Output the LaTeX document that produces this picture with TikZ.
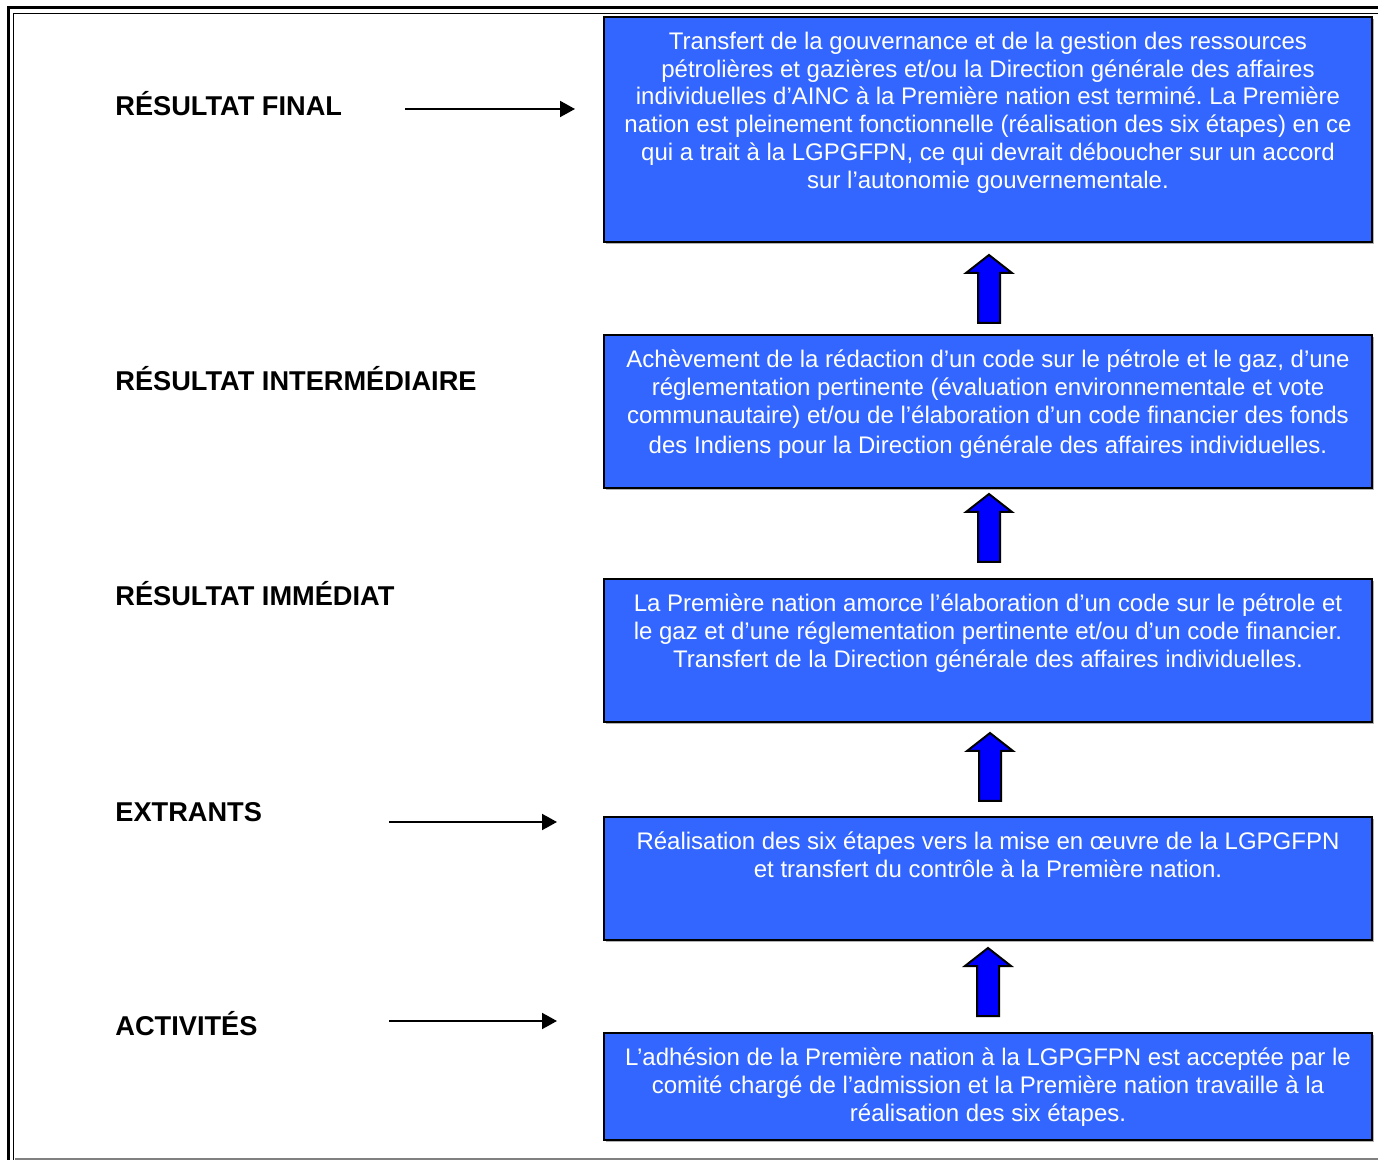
\documentclass[tikz,border=0pt]{standalone}
\usepackage{fontspec}
\setmainfont{Liberation Sans}
\usetikzlibrary{arrows.meta,shadows}
\definecolor{boxblue}{HTML}{3366FF}
\definecolor{arrowblue}{HTML}{0000FF}
\frenchspacing
\begin{document}
\begin{tikzpicture}[x=0.5pt,y=-0.5pt,
  box/.style={draw=black, line width=1pt, fill=boxblue, inner sep=0, anchor=north west,
    minimum width=384pt,
    drop shadow={shadow xshift=0.8pt, shadow yshift=-0.8pt, fill=black!30, opacity=1}},
  boxtext/.style={anchor=north, inner sep=0, text=white, align=center,
    font=\fontsize{12}{13.9}\selectfont},
  lbl/.style={anchor=base west, inner sep=0, font=\fontsize{13.6}{16}\selectfont\bfseries},
  harrow/.style={line width=1pt, -{Triangle[length=7.5pt,width=8pt]}},
  uparrow/.style={draw=black, line width=1pt, fill=arrowblue, line join=miter}]
\clip (0,0) rectangle (1378,1160);
% frame
\draw[line width=1.5pt] (8,1170) -- (8,8) -- (1390,8);
\draw[line width=0.75pt] (13.5,1170) -- (13.5,13.5) -- (1390,13.5);
\draw[gray, line width=0.75pt] (15,1159) -- (1390,1159);
% boxes
\node[box, minimum height=112.5pt] (b1) at (603,16) {};
\node[box, minimum height=76.5pt] (b2) at (603,334) {};
\node[box, minimum height=71.5pt] (b3) at (603,578) {};
\node[box, minimum height=61.5pt] (b4) at (603,816) {};
\node[box, minimum height=53.5pt] (b5) at (603,1032) {};
% box texts
\node[boxtext] (t1) at ([yshift=-7.8pt]b1.north) {Transfert de la gouvernance et de la gestion des ressources\\
pétrolières et gazières et/ou la Direction générale des affaires\\
individuelles d’AINC à la Première nation est terminé. La Première\\
nation est pleinement fonctionnelle (réalisation des six étapes) en ce\\
qui a trait à la LGPGFPN, ce qui devrait déboucher sur un accord\\
sur l’autonomie gouvernementale.};
\node[boxtext] (t2) at ([yshift=-7.8pt]b2.north) {Achèvement de la rédaction d’un code sur le pétrole et le gaz, d’une\\
réglementation pertinente (évaluation environnementale et vote\\
communautaire) et/ou de l’élaboration d’un code financier des fonds\\[1.2pt]
des Indiens pour la Direction générale des affaires individuelles.};
\node[boxtext] (t3) at ([yshift=-7.8pt]b3.north) {La Première nation amorce l’élaboration d’un code sur le pétrole et\\
le gaz et d’une réglementation pertinente et/ou d’un code financier.\\
Transfert de la Direction générale des affaires individuelles.};
\node[boxtext] (t4) at ([yshift=-7.8pt]b4.north) {Réalisation des six étapes vers la mise en œuvre de la LGPGFPN\\
et transfert du contrôle à la Première nation.};
\node[boxtext] (t5) at ([yshift=-7.8pt]b5.north) {L’adhésion de la Première nation à la LGPGFPN est acceptée par le\\
comité chargé de l’admission et la Première nation travaille à la\\
réalisation des six étapes.};
% labels
\node[lbl] (l1) at (115,116) {RÉSULTAT FINAL};
\node[lbl] (l2) at (115,391) {RÉSULTAT INTERMÉDIAIRE};
\node[lbl] (l3) at (115,606) {RÉSULTAT IMMÉDIAT};
\node[lbl] (l4) at (115,821) {EXTRANTS};
\node[lbl] (l5) at (115,1035) {ACTIVITÉS};
% horizontal arrows
\coordinate (h1s) at (405,109); \coordinate (h1e) at (575,109);
\coordinate (h4s) at (389,822); \coordinate (h4e) at (557,822);
\coordinate (h5s) at (389,1021); \coordinate (h5e) at (557,1021);
\draw[harrow] (h1s) -- (h1e);
\draw[harrow] (h4s) -- (h4e);
\draw[harrow] (h5s) -- (h5e);
% block up arrows
\coordinate (u1) at (989,255);
\coordinate (u2) at (989,494);
\coordinate (u3) at (990,733);
\coordinate (u4) at (988,948);
\foreach \u in {u1,u2,u3,u4}{
  \draw[uparrow] (\u) -- ++(23,18) -- ++(-12,0) -- ++(0,50) -- ++(-22,0) -- ++(0,-50) -- ++(-12,0) -- cycle;
}
\end{tikzpicture}
\end{document}
